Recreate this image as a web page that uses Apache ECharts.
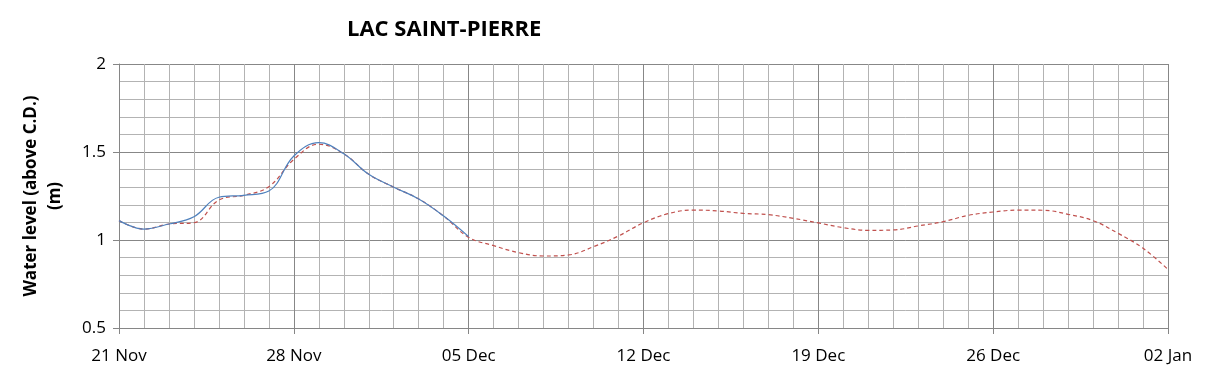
<!DOCTYPE html>
<html>
<head>
<meta charset="utf-8">
<script src="https://cdn.jsdelivr.net/npm/echarts@6/dist/echarts.min.js"></script>
<style>
  html, body { margin: 0; padding: 0; background: #fff; }
  #chart { width: 1209px; height: 378px; }
</style>
</head>
<body>
<div id="chart"></div>
<script>
// day index from 21 Nov
const tickLabels = ['21 Nov', '28 Nov', '05 Dec', '12 Dec', '19 Dec', '26 Dec', '02 Jan'];

// observed level, 21 Nov .. 05 Dec
const observed = [1.11, 1.062, 1.091, 1.132, 1.243, 1.254, 1.278, 1.477, 1.553, 1.49,
  1.373, 1.30, 1.233, 1.136, 1.019];

// forecast level, 21 Nov .. 02 Jan
const forecast = [1.11, 1.062, 1.091, 1.098, 1.227, 1.254, 1.303, 1.458, 1.544, 1.49,
  1.373, 1.30, 1.233, 1.136, 1.015, 0.968, 0.928, 0.909, 0.915, 0.962,
  1.023, 1.098, 1.15, 1.17, 1.165, 1.151, 1.144, 1.123, 1.097, 1.07,
  1.055, 1.057, 1.08, 1.104, 1.14, 1.159, 1.17, 1.169, 1.146, 1.11,
  1.038, 0.953, 0.833];

const chart = echarts.init(document.getElementById('chart'), null, { renderer: 'canvas' });

const font = 'Open Sans, Liberation Sans, sans-serif';

const option = {
  backgroundColor: '#ffffff',
  animation: false,
  title: {
    text: 'LAC SAINT-PIERRE',
    left: 342,
    top: 14,
    textStyle: { fontFamily: font, fontSize: 22, fontWeight: 'bold', color: '#000' }
  },
  grid: { left: 119, right: 41, top: 64, bottom: 50 },
  xAxis: {
    type: 'value',
    min: 0,
    max: 42,
    interval: 7,
    axisLine: { lineStyle: { color: '#868686', width: 1 } },
    axisTick: { show: true, length: 6, lineStyle: { color: '#868686' } },
    axisLabel: {
      fontFamily: font, fontSize: 17, color: '#000', margin: 20,
      formatter: v => tickLabels[Math.round(v / 7)]
    },
    splitLine: { show: true, lineStyle: { color: '#878787', width: 1 } },
    minorTick: { show: false, splitNumber: 7 },
    minorSplitLine: { show: true, lineStyle: { color: '#b3b3b3', width: 1 } }
  },
  yAxis: {
    type: 'value',
    min: 0.5,
    max: 2,
    interval: 0.5,
    name: 'Water level (above C.D.)\n(m)',
    nameLocation: 'middle',
    nameGap: 52,
    nameTextStyle: { fontFamily: font, fontSize: 17, fontWeight: 'bold', color: '#000', lineHeight: 24 },
    axisLine: { show: true, lineStyle: { color: '#868686', width: 1 } },
    axisTick: { show: true, length: 6, lineStyle: { color: '#868686' } },
    axisLabel: { fontFamily: font, fontSize: 17, color: '#000', margin: 13 },
    splitLine: { show: true, lineStyle: { color: '#878787', width: 1 } },
    minorTick: { show: false, splitNumber: 5 },
    minorSplitLine: { show: true, lineStyle: { color: '#b3b3b3', width: 1 } }
  },
  series: [
    {
      name: 'Forecast',
      type: 'line',
      smooth: 0.4,
      symbol: 'none',
      data: forecast.map((v, i) => [i, v]),
      lineStyle: { color: '#c0504d', width: 1.2, type: [4, 3] },
      z: 2
    },
    {
      name: 'Observed',
      type: 'line',
      smooth: 0.4,
      symbol: 'none',
      data: observed.map((v, i) => [i, v]),
      lineStyle: { color: '#4f81bd', width: 1.2 },
      z: 3
    }
  ]
};

chart.setOption(option);
</script>
</body>
</html>
